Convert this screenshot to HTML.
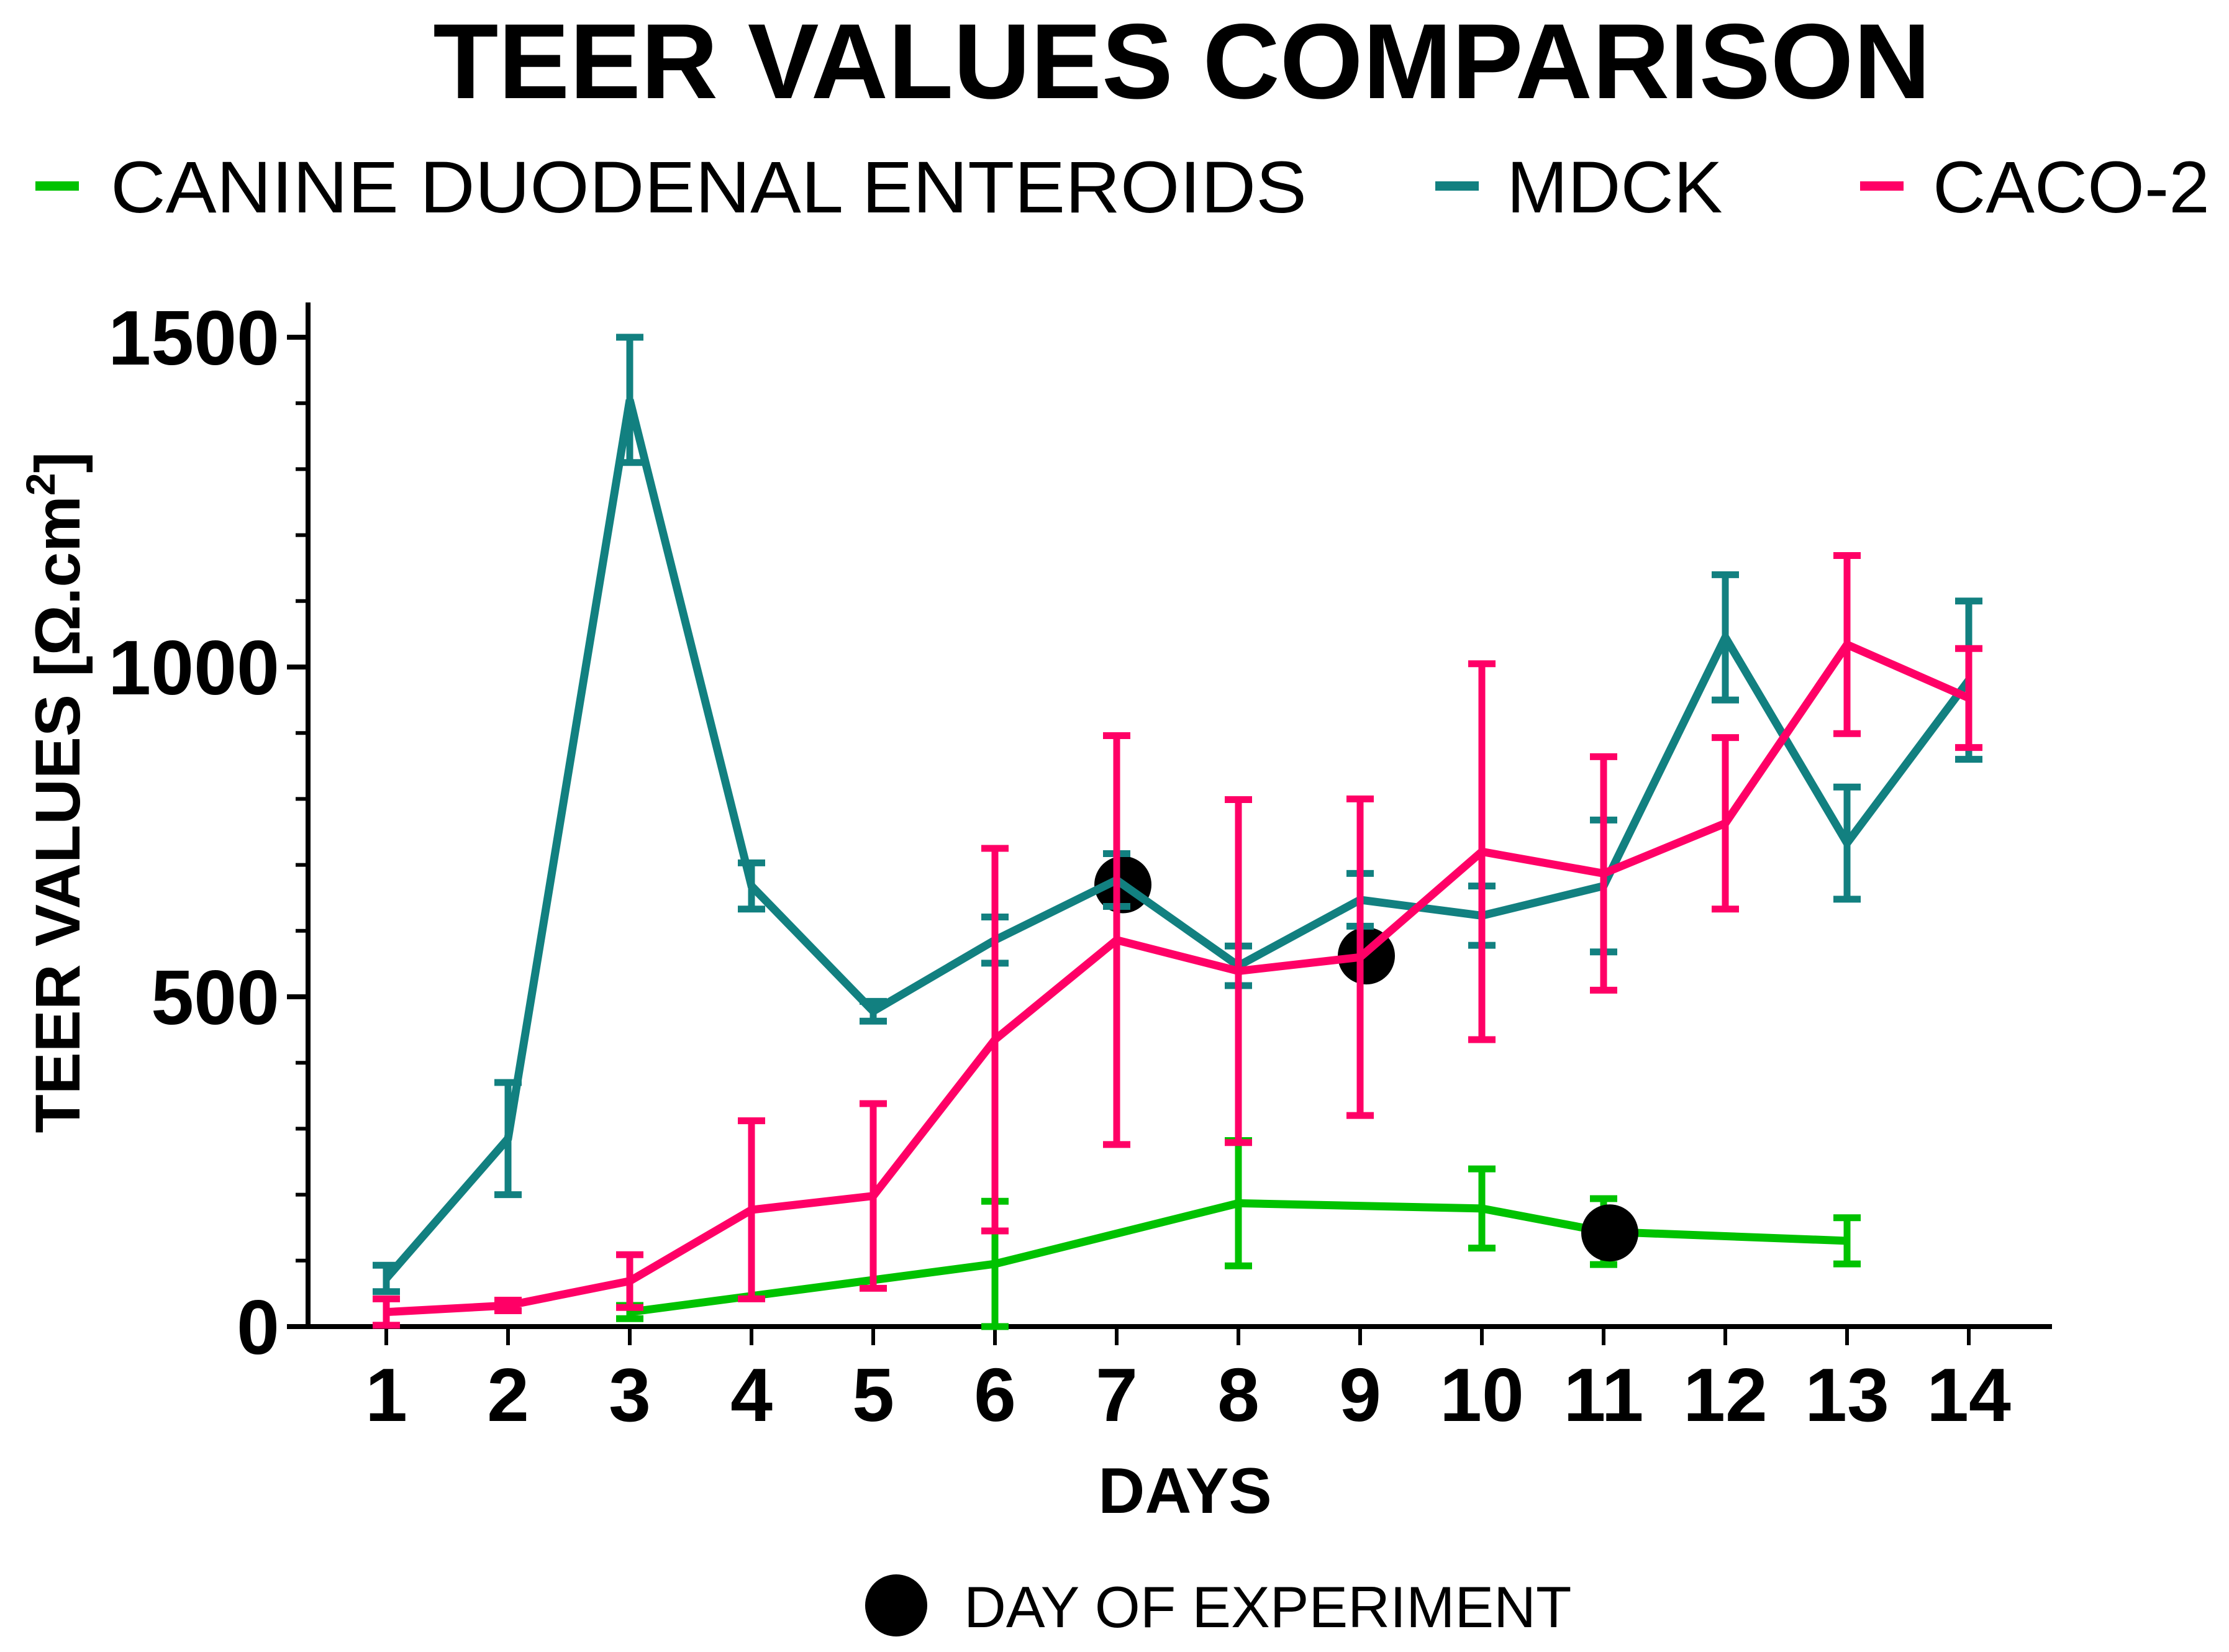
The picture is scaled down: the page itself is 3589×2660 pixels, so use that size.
<!DOCTYPE html>
<html><head><meta charset="utf-8"><style>
html,body{margin:0;padding:0;background:#fff;}
svg{display:block;font-family:"Liberation Sans",Arial,sans-serif;}
</style></head><body>
<svg id="chart" width="3589" height="2660" viewBox="0 0 3589 2660" xmlns="http://www.w3.org/2000/svg">
<text x="1903" y="158" text-anchor="middle" font-size="172" font-weight="bold">TEER VALUES COMPARISON</text>
<g font-size="118">
 <g><rect x="57" y="292" width="70" height="15" fill="#00c200"/><text x="178" y="342" textLength="1926" lengthAdjust="spacingAndGlyphs">CANINE DUODENAL ENTEROIDS</text></g>
 <g><rect x="2311" y="292" width="70" height="15" fill="#128080"/><text x="2426" y="342">MDCK</text></g>
 <g><rect x="2995" y="292" width="70" height="15" fill="#ff0066"/><text x="3112" y="342">CACO-2</text></g>
</g>
<g id="axes"></g>
<g id="series"></g>
<text transform="translate(128,1276) rotate(-90)" text-anchor="middle" font-size="102" font-weight="bold">TEER VALUES [Ω.cm<tspan dy="-40" font-size="66">2</tspan><tspan dy="40">]</tspan></text>
<text x="1908" y="2436" text-anchor="middle" font-size="104" font-weight="bold">DAYS</text>
<g>
 <circle cx="1443" cy="2585" r="50" fill="#000"/>
 <text x="1552" y="2620" font-size="94">DAY OF EXPERIMENT</text>
</g>
</svg>
<script>
const days = [1,2,3,4,5,6,7,8,9,10,11,12,13,14];
const mdckValues = [73,285,1405,668,478,586,677,547,647,623,668,1045,733,980];
const mdckErrors = [20,85,95,35,15,35,40,30,40,45,100,95,85,120];
const cacoValues = [22,32,69,177,198,435,586,539,560,720,687,763,1034,953];
const cacoErrors = [20,8,40,135,140,290,310,260,240,285,177,130,135,75];
const canineDays = [3,6,8,10,11,13];
const canineValues = [22,95,187,179,144,130];
const canineErrors = [10,95,95,60,50,35];
const experimentDays = [7,9,11];
const experimentValues = [670,562,142];
const yTicks = [0,500,1000,1500];

const NS='http://www.w3.org/2000/svg';
const X = d => 622 + (d-1)*196;
const Y = v => 2136 - v*1.062;
function mk(tag, attrs, parent){const e=document.createElementNS(NS,tag);for(const k in attrs)e.setAttribute(k,attrs[k]);parent.appendChild(e);return e;}
const axes=document.getElementById('axes');
const ser=document.getElementById('series');

const ya=mk('line',{x1:496,y1:487,x2:496,y2:2140,stroke:'#000','stroke-width':8},axes);


const xa=mk('line',{x1:466,y1:2136,x2:3304,y2:2136,stroke:'#000','stroke-width':8},axes);


for(let v=0;v<=1500;v+=100){
  const major=v%500===0;
  const t=mk('line',{x1:major?462:476,y1:Y(v),x2:496,y2:Y(v),stroke:'#000','stroke-width':major?8:6},axes);
  
  
}
yTicks.forEach(v=>{
  const t=mk('text',{x:450,y:Y(v)+44,'text-anchor':'end','font-size':124,'font-weight':'bold'},axes);
  t.textContent=v;
  
  
});
days.forEach(d=>{
  const t=mk('line',{x1:X(d),y1:2136,x2:X(d),y2:2166,stroke:'#000','stroke-width':6},axes);
  
  
  const l=mk('text',{x:X(d),y:2288,'text-anchor':'middle','font-size':122,'font-weight':'bold'},axes);
  l.textContent=d;
  
  
});

function drawSeries(name,xs,vals,errs,color){
  const g=mk('g',{},ser);
  
  
  xs.forEach((d,i)=>{
    if(!errs[i])return;
    const x=X(d), y1=Y(vals[i]+errs[i]), y2=Y(Math.max(0,vals[i]-errs[i]));
    const e=mk('path',{d:`M${x},${y1}V${y2}M${x-22},${y1}H${x+22}M${x-22},${y2}H${x+22}`,stroke:color,'stroke-width':11,fill:'none'},g);
    
    
  });
  const pts=xs.map((d,i)=>X(d)+','+Y(vals[i])).join(' ');
  const p=mk('polyline',{points:pts,stroke:color,'stroke-width':13,fill:'none','stroke-linejoin':'miter'},g);
  
  
}
drawSeries('canine',canineDays,canineValues,canineErrors,'#00c200');
drawSeries('mdck',days,mdckValues,mdckErrors,'#128080');
drawSeries('caco2',days,cacoValues,cacoErrors,'#ff0066');

experimentDays.forEach((d,i)=>{
  const c=mk('circle',{cx:X(d)+10,cy:Y(experimentValues[i]),r:46,fill:'#000'},ser);
  
  
});
ser.appendChild(ser.children[1]);ser.appendChild(ser.children[1]);
</script>
</body></html>
